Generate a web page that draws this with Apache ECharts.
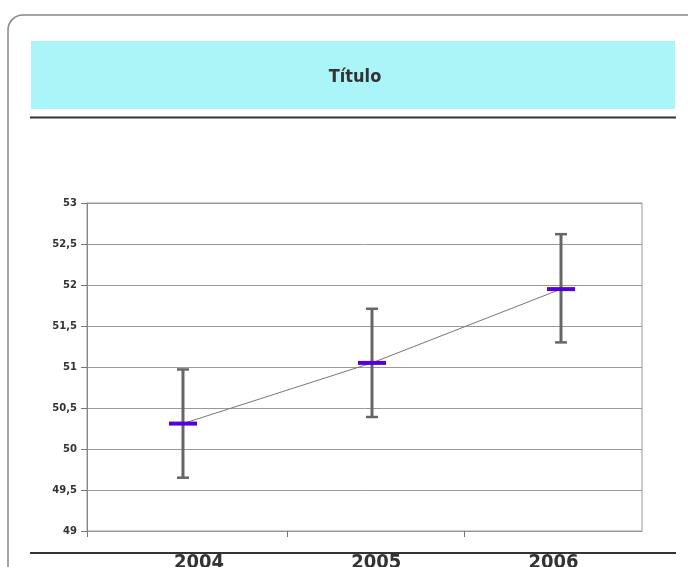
<!DOCTYPE html>
<html>
<head>
<meta charset="utf-8">
<script src="https://cdn.jsdelivr.net/npm/echarts@6/dist/echarts.min.js"></script>
<style>
html,body{margin:0;padding:0;background:#fff;}
#c{width:688px;height:567px;}
</style>
</head>
<body>
<div id="c"></div>
<script>
// ---- data ----
const titleText = 'Título';
const years = ['2004', '2005', '2006'];
const means = [50.31, 51.05, 51.95];
const lows = [49.65, 50.39, 51.30];
const highs = [50.97, 51.71, 52.62];
const yTicks = [49, 49.5, 50, 50.5, 51, 51.5, 52, 52.5, 53];

const chart = echarts.init(document.getElementById('c'), null, {renderer: 'canvas'});

const meanData = means.map((v, i) => [i, v]);
const errData = lows.map((l, i) => [i, l, highs[i]]);
const narrow = '"Liberation Sans Narrow", "DejaVu Sans Condensed", sans-serif';

const option = {
  animation: false,
  backgroundColor: '#fff',
  title: {
    text: titleText,
    left: 350,
    top: 63,
    textAlign: 'center',
    textStyle: {
      fontFamily: narrow,
      fontWeight: 'bold',
      fontSize: 18,
      color: '#333'
    }
  },
  graphic: [
    { type: 'rect', z: -10, shape: { x: 8, y: 15, width: 720, height: 620, r: 15 },
      style: { fill: '#fff', stroke: '#888', lineWidth: 1.5 } },
    { type: 'rect', z: -9, shape: { x: 31, y: 41, width: 644, height: 68 },
      style: { fill: '#AAF5F7' } },
    { type: 'line', z: -9, shape: { x1: 30, y1: 117.5, x2: 676, y2: 117.5 },
      style: { stroke: '#333', lineWidth: 2 } },
    { type: 'line', z: -9, shape: { x1: 30, y1: 553, x2: 676, y2: 553 },
      style: { stroke: '#333', lineWidth: 2 } }
  ],
  grid: [
    { left: 87, right: 46, top: 203, bottom: 36, show: true, borderColor: '#999', borderWidth: 1, backgroundColor: 'transparent', outerBoundsMode: 'none' },
    { left: 110.5, right: 46, top: 203, bottom: 36, outerBoundsMode: 'none' }
  ],
  xAxis: [
    {
      type: 'value', gridIndex: 0,
      min: -0.5079, max: 2.4286,
      splitLine: { show: false },
      axisLine: { show: true, onZero: false, lineStyle: { color: '#999', width: 1 } },
      axisTick: { show: true, length: 6, customValues: [-0.5079, 0.5503, 1.4868], lineStyle: { color: '#777' } },
      axisLabel: { show: false }
    },
    {
      type: 'category', gridIndex: 1, data: years,
      axisLine: { show: false },
      axisTick: { show: false },
      axisLabel: {
        margin: 22,
        fontFamily: narrow,
        fontWeight: 'bold', fontSize: 20, color: '#333'
      }
    }
  ],
  yAxis: [
    {
      type: 'value', gridIndex: 0, min: 49, max: 53, interval: 0.5,
      axisLine: { show: true, onZero: false, lineStyle: { color: '#888' } },
      axisTick: { show: true, length: 6, lineStyle: { color: '#777' } },
      splitLine: { show: true, lineStyle: { color: '#999', width: 1 } },
      axisLabel: {
        margin: 10,
        fontFamily: '"DejaVu Sans", sans-serif',
        fontWeight: 'bold', fontSize: 10, color: '#333',
        formatter: v => String(v).replace('.', ',')
      }
    },
    { type: 'value', gridIndex: 1, min: 49, max: 53, show: false }
  ],
  series: [
    {
      type: 'custom',
      xAxisIndex: 0, yAxisIndex: 0,
      data: errData,
      z: 2,
      renderItem: function (params, api) {
        const x = api.value(0);
        const lo = api.coord([x, api.value(1)]);
        const hi = api.coord([x, api.value(2)]);
        const cap = 6;
        const st = { stroke: '#666', lineWidth: 3 };
        return {
          type: 'group',
          children: [
            { type: 'line', shape: { x1: lo[0], y1: lo[1], x2: hi[0], y2: hi[1] }, style: st },
            { type: 'line', shape: { x1: hi[0] - cap, y1: hi[1], x2: hi[0] + cap, y2: hi[1] }, style: { stroke: '#666', lineWidth: 2.5 } },
            { type: 'line', shape: { x1: lo[0] - cap, y1: lo[1], x2: lo[0] + cap, y2: lo[1] }, style: { stroke: '#666', lineWidth: 2.5 } }
          ]
        };
      }
    },
    {
      type: 'line',
      xAxisIndex: 0, yAxisIndex: 0,
      data: meanData,
      z: 3,
      symbol: 'rect',
      symbolSize: [28, 4],
      itemStyle: { color: '#5200DC' },
      lineStyle: { color: '#777', width: 1 }
    }
  ]
};

chart.setOption(option);
</script>
</body>
</html>
